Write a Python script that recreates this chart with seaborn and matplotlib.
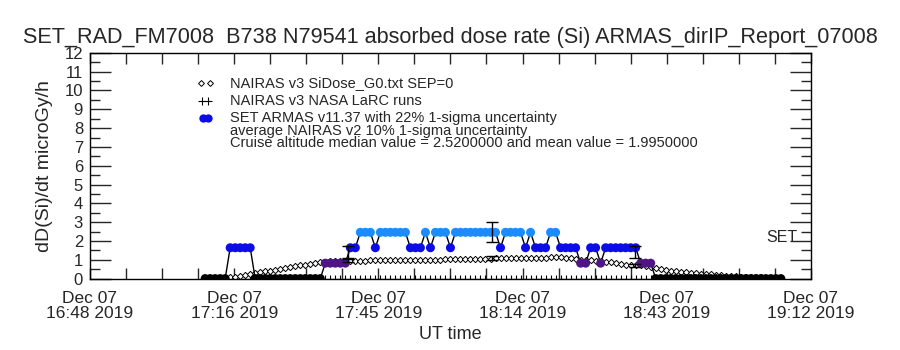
import numpy as np
import pandas as pd
import matplotlib
matplotlib.use("Agg")
import matplotlib.pyplot as plt
import seaborn as sns

# ARMAS / NAIRAS dose rate, flight of Dec 07 2019
# time axis = minutes after 16:48 UT, one sample per minute

minutes = list(range(23, 139))

# NAIRAS v3 SiDose (microGy/h)
nairas = [0.01, 0.02, 0.02, 0.03, 0.04, 0.06, 0.10, 0.14, 0.19, 0.24,
          0.28, 0.33, 0.38, 0.42, 0.47, 0.52, 0.56, 0.61, 0.65, 0.70,
          0.74, 0.79, 0.83, 0.87, 0.90, 0.92, 0.93, 0.94, 0.95, 0.95,
          0.96, 0.96, 0.96, 0.97, 0.97, 0.97, 0.98, 0.98, 0.98, 0.98,
          0.99, 0.99, 0.99, 0.99, 1.00, 1.00, 1.01, 1.01, 1.02, 1.02,
          1.03, 1.03, 1.04, 1.04, 1.05, 1.05, 1.06, 1.06, 1.07, 1.07,
          1.08, 1.08, 1.09, 1.09, 1.10, 1.10, 1.11, 1.11, 1.12, 1.13,
          1.14, 1.16, 1.12, 1.07, 1.02, 1.00, 0.99, 0.97, 0.95, 0.92,
          0.90, 0.86, 0.81, 0.77, 0.73, 0.71, 0.72, 0.70, 0.66, 0.62,
          0.57, 0.52, 0.47, 0.43, 0.40, 0.37, 0.34, 0.31, 0.29, 0.26,
          0.24, 0.22, 0.20, 0.18, 0.16, 0.14, 0.12, 0.10, 0.09, 0.08,
          0.07, 0.06, 0.05, 0.05, 0.04, 0.04]

# SET ARMAS v11.37 (microGy/h)
armas = [0, 0, 0, 0, 0, 1.64, 1.64, 1.64, 1.64, 1.64,
         0, 0, 0, 0, 0, 0, 0, 0, 0, 0,
         0, 0, 0, 0, 0.82, 0.82, 0.82, 0.82, 0.82, 1.64,
         1.64, 2.46, 2.46, 2.46, 1.64, 2.46, 2.46, 2.46, 2.46, 2.46,
         2.46, 1.64, 1.64, 1.64, 2.46, 1.64, 2.46, 2.46, 2.46, 1.64,
         2.46, 2.46, 2.46, 2.46, 2.46, 2.46, 2.46, 2.46, 2.46, 1.64,
         2.46, 2.46, 2.46, 2.46, 1.64, 2.46, 1.64, 1.64, 1.64, 2.46,
         2.46, 1.64, 1.64, 1.64, 1.64, 0.82, 0.82, 1.64, 1.64, 0.82,
         1.64, 1.64, 1.64, 1.64, 1.64, 1.64, 1.64, 0.82, 0.82, 0.82,
         0, 0, 0, 0, 0, 0, 0, 0, 0, 0,
         0, 0, 0, 0, 0, 0, 0, 0, 0, 0,
         0, 0, 0, 0, 0, 0]

# NAIRAS v3 NASA LaRC runs (all at zero)
larc = [0.0] * len(minutes)

# segment averages with 1-sigma bars
avg_minutes = [51.5, 80.3, 108.8]
armas_avg = [1.43, 2.48, 1.43]
nairas_avg = [0.97, 1.07, 0.71]

tick_labels = ["Dec 07\n16:48 2019", "Dec 07\n17:16 2019", "Dec 07\n17:45 2019",
               "Dec 07\n18:14 2019", "Dec 07\n18:43 2019", "Dec 07\n19:12 2019"]

level_colors = {0.0: "black", 0.82: "#4f1488", 1.64: "#0c0ce6", 2.46: "#1a8cff"}

sns.set_style("white")
plt.rcParams["font.family"] = ["Liberation Sans", "DejaVu Sans"]

df = pd.DataFrame({"minute": minutes, "nairas": nairas, "armas": armas, "larc": larc})
df["level"] = df["armas"].astype(float)

fig = plt.figure(figsize=(9, 3.5), dpi=100)
ax = fig.add_axes([0.1, 0.204, 0.801, 0.645])

# LaRC runs
ax.plot(df["minute"], df["larc"], ls="none", marker="+", ms=6, mew=0.8, color="black")

# NAIRAS diamonds
ax.plot(df["minute"], df["nairas"], ls="none", marker="D", ms=3.2, mew=0.7,
        mfc="white", mec="black")

# ARMAS line + coloured dots
sns.lineplot(data=df, x="minute", y="armas", color="black", lw=1, ax=ax)
sns.scatterplot(data=df, x="minute", y="armas", hue="level", palette=level_colors,
                s=42, linewidth=0, legend=False, ax=ax, zorder=3)

# uncertainty bars
ax.errorbar(avg_minutes, armas_avg, yerr=0.22 * np.array(armas_avg), fmt="none",
            ecolor="black", elinewidth=1, capsize=4, capthick=1, zorder=4)
ax.errorbar(avg_minutes, nairas_avg, yerr=0.10 * np.array(nairas_avg), fmt="none",
            ecolor="black", elinewidth=1, capsize=4, capthick=1, zorder=4)

ax.set_xlim(0, 144)
ax.set_ylim(0, 12)
ax.set_xticks(np.linspace(0, 144, 6))
ax.set_xticks(np.linspace(0, 144, 21), minor=True)
ax.set_xticklabels(tick_labels, fontsize=12.5, linespacing=0.95)
ax.set_yticks(range(0, 13))
ax.set_yticks(np.arange(0.5, 12, 1.0), minor=True)
ax.tick_params(axis="x", which="both", direction="in", top=True, bottom=True,
               length=8, width=1, pad=9)
ax.tick_params(axis="y", which="major", direction="in", left=True, right=True,
               length=15, width=1, labelsize=12, pad=5)
ax.tick_params(axis="y", which="minor", direction="in", left=True, right=True,
               length=7, width=1)
for sp in ax.spines.values():
    sp.set_color("black")
    sp.set_linewidth(1)

ax.set_xlabel("UT time", fontsize=13, labelpad=4)
ax.set_ylabel("dD(Si)/dt microGy/h", fontsize=14, labelpad=8)

ax.text(141.3, 2.2, "SET", ha="right", va="center", fontsize=11.5)

# legend block
lx, tx = 0.160, 0.194
ax.plot([lx - 0.006, lx + 0.006], [0.865, 0.865], ls="none", marker="D", ms=3,
        mew=0.7, mfc="white", mec="black", transform=ax.transAxes)
ax.plot([lx - 0.004, lx + 0.004], [0.785, 0.785], ls="none", marker="+", ms=6,
        mew=0.8, color="black", transform=ax.transAxes)
ax.plot([lx - 0.003, lx + 0.003], [0.712, 0.712], ls="none", marker="o", ms=6,
        mew=0, color="#0c0ce6", transform=ax.transAxes)
legend_lines = [
    (0.867, "NAIRAS v3 SiDose_G0.txt SEP=0"),
    (0.787, "NAIRAS v3 NASA LaRC runs"),
    (0.712, "SET ARMAS v11.37 with 22% 1-sigma uncertainty"),
    (0.654, "average NAIRAS v2 10% 1-sigma uncertainty"),
    (0.601, "Cruise altitude median value = 2.5200000 and mean value = 1.9950000"),
]
for y, s in legend_lines:
    ax.text(tx, y, s, transform=ax.transAxes, ha="left", va="center", fontsize=10.5)

fig.text(0.5, 1 - 37 / 350, "SET_RAD_FM7008  B738 N79541 absorbed dose rate (Si) ARMAS_dirIP_Report_07008",
         ha="center", va="center", fontsize=15.6)

plt.savefig("out.png", dpi=100)
